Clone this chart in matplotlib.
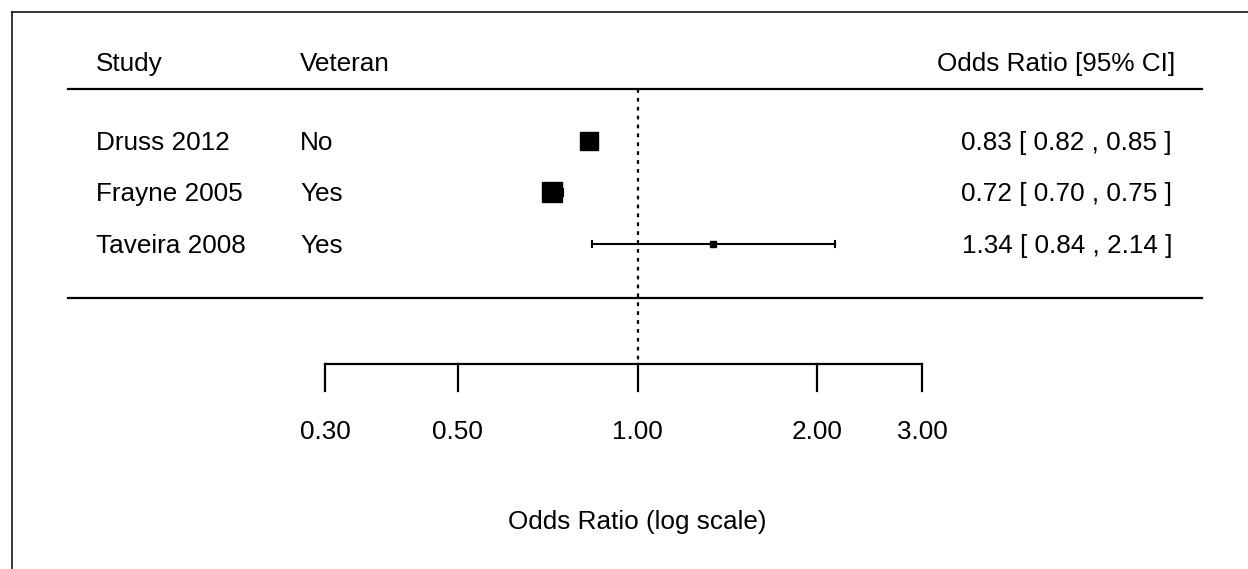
import matplotlib
matplotlib.use("Agg")
import matplotlib.pyplot as plt
from matplotlib.transforms import blended_transform_factory
from matplotlib.lines import Line2D

# ---- data ----
studies = ["Druss 2012", "Frayne 2005", "Taveira 2008"]
veteran = ["No", "Yes", "Yes"]
odds_ratio = [0.83, 0.72, 1.34]
ci_low = [0.82, 0.70, 0.84]
ci_high = [0.85, 0.75, 2.14]
tick_values = [0.30, 0.50, 1.00, 2.00, 3.00]
tick_labels = ["0.30", "0.50", "1.00", "2.00", "3.00"]
headers = ["Study", "Veteran", "Odds Ratio [95% CI]"]
xlabel = "Odds Ratio (log scale)"

# marker sizes (style, in points) reflecting study weights
marker_sizes = [12.6, 14.2, 4.0]

plt.rcParams['font.family'] = ['Liberation Sans', 'DejaVu Sans']
FS = 18.8

W, H = 1248, 569
fig = plt.figure(figsize=(W / 100, H / 100), dpi=100)
ax = fig.add_axes([0, 0, 1, 1])
ax.set_xscale("log")
ax.set_xlim(0.0855, 10.53)
ax.set_ylim(8.311, -2.738)
ax.axis("off")

tb = blended_transform_factory(ax.transAxes, ax.transData)

# rows
rows = list(range(len(studies)))
y_head = -1.49
y_hline_top = -1.01
y_hline_bot = 3.04
y_axis = 4.33
y_tick_end = 4.85
y_ticklab = 5.66
y_xlabel = 7.40

x_study = 96 / W
x_vet = 300 / W
x_right = 1175 / W

ax.text(x_study, y_head, headers[0], transform=tb, ha="left", va="center", fontsize=FS)
ax.text(x_vet, y_head, headers[1], transform=tb, ha="left", va="center", fontsize=FS)
ax.text(x_right, y_head, headers[2], transform=tb, ha="right", va="center", fontsize=FS)

for y, s, v, o, lo, hi in zip(rows, studies, veteran, odds_ratio, ci_low, ci_high):
    ax.text(x_study, y + 0.03, s, transform=tb, ha="left", va="center", fontsize=FS)
    ax.text(x_vet, y + 0.03, v, transform=tb, ha="left", va="center", fontsize=FS)
    ax.text(x_right - 3 / W, y + 0.03, f"{o:.2f} [ {lo:.2f} , {hi:.2f} ]", transform=tb,
            ha="right", va="center", fontsize=FS)

# horizontal rule lines
ax.plot([68 / W, 1202 / W], [y_hline_top, y_hline_top], transform=tb, color="black", lw=1.6)
ax.plot([68 / W, 1202 / W], [y_hline_bot, y_hline_bot], transform=tb, color="black", lw=1.6)

# reference line at OR = 1
ax.plot([1, 1], [y_hline_top, y_axis], color="black", lw=1.6,
        linestyle=(0, (1.7, 2.3)), zorder=1)

# CIs and points
for y, o, lo, hi, ms in zip(rows, odds_ratio, ci_low, ci_high, marker_sizes):
    ax.plot([lo, hi], [y, y], color="black", lw=1.5, zorder=2)
    ax.plot([lo, lo], [y - 0.06, y + 0.06], color="black", lw=1.5, zorder=2)
    ax.plot([hi, hi], [y - 0.06, y + 0.06], color="black", lw=1.5, zorder=2)
    ax.plot([o], [y], marker="s", color="black", markersize=ms, linestyle="none", zorder=3)

# x axis
ax.plot([tick_values[0], tick_values[-1]], [y_axis, y_axis], color="black", lw=1.6,
        solid_capstyle="projecting")
for tv, tl in zip(tick_values, tick_labels):
    ax.plot([tv, tv], [y_axis, y_tick_end], color="black", lw=1.6)
    ax.text(tv, y_ticklab, tl, ha="center", va="center", fontsize=FS)

ax.text(1.0, y_xlabel, xlabel, ha="center", va="center", fontsize=FS)

# frame border (cropped)
fig.add_artist(Line2D([11.7 / W, 1.0], [1 - 12 / H, 1 - 12 / H], color="black", lw=1.1,
                      transform=fig.transFigure))
fig.add_artist(Line2D([11.7 / W, 11.7 / W], [0.0, 1 - 12 / H], color="black", lw=1.1,
                      transform=fig.transFigure))

fig.savefig("out.png", dpi=100, facecolor="white")
